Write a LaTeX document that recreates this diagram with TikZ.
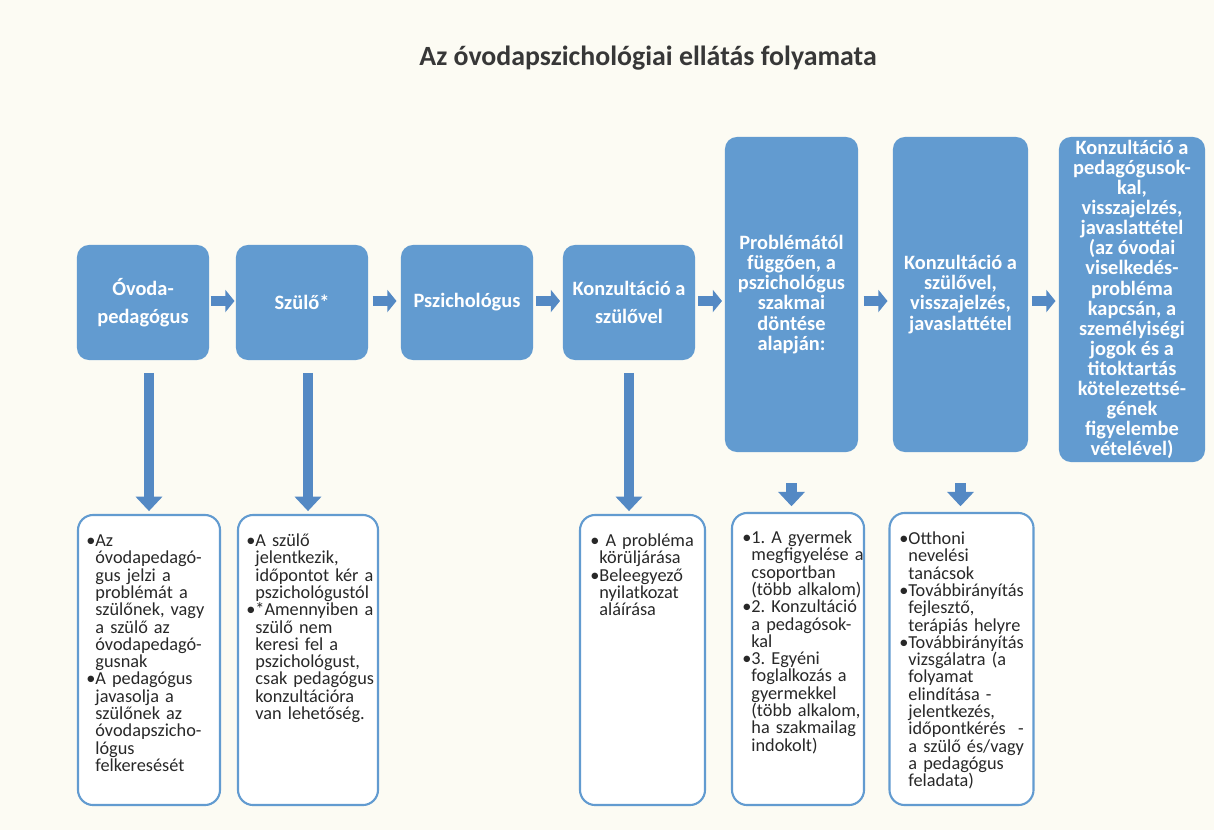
\documentclass[tikz,border=0pt]{standalone}
\usepackage{fontspec}
\setmainfont{Carlito}
\usetikzlibrary{arrows.meta, calc}
\definecolor{boxblue}{RGB}{98,155,208}
\definecolor{arrblue}{RGB}{84,137,196}
\definecolor{paper}{RGB}{252,251,243}
\definecolor{ink}{RGB}{40,40,40}
\definecolor{titlegray}{RGB}{55,55,55}
\tikzstyle{stage}=[rectangle,rounded corners=0.3cm,fill=boxblue,text=white,align=center,inner sep=2pt,font=\fontsize{14.5}{17}\selectfont\bfseries]
\tikzstyle{tall}=[font=\fontsize{14.5}{14.3}\selectfont\bfseries]
\tikzstyle{note}=[rectangle,rounded corners=0.38cm,draw=boxblue,line width=1.5pt,fill=white,inner sep=0pt]
\tikzstyle{notetext}=[anchor=north west,text width=3.6cm,align=left,inner sep=0pt,text=ink,font=\fontsize{13}{12.3}\selectfont]
\tikzstyle{harr}=[draw=arrblue,line width=0.25cm,-{Triangle[length=0.23cm,width=0.55cm]}]
\tikzstyle{varr}=[draw=arrblue,line width=0.27cm,-{Triangle[length=0.36cm,width=0.65cm]}]
\newcommand{\itm}{\par\hangindent=0.5em\hangafter=1\noindent\makebox[0.5em][l]{•}}
\hyphenpenalty=10000
\frenchspacing

\begin{document}
\begin{tikzpicture}[x=0.025cm,y=-0.025cm]
    \fill[paper] (0,0) rectangle (1214,830);
    \node[font=\fontsize{19.8}{22}\selectfont\bfseries,text=titlegray] (title) at (648,58) {Az óvodapszichológiai ellátás folyamata};
    \coordinate (mid) at (0,301);

    \node[stage,minimum width=3.3cm,minimum height=2.875cm] (ovoda) at (143,302.5) {Óvoda-\\[3pt]pedagógus};
    \node[stage,minimum width=3.3cm,minimum height=2.875cm] (szulo) at (302,302.5) {Szülő*};
    \node[stage,minimum width=3.3cm,minimum height=2.875cm] (pszich) at (467,302.5) {Pszichológus};
    \node[stage,minimum width=3.3cm,minimum height=2.875cm] (konz) at (629,302.5) {Konzultáció a\\[3pt]szülővel};
    \node[stage,tall,minimum width=3.325cm,minimum height=7.875cm] (dontes) at (791.5,294.5) {Problémától\\függően, a\\pszichológus\\szakmai\\döntése\\alapján:};
    \node[stage,tall,minimum width=3.375cm,minimum height=7.875cm] (vissza) at (960.5,294.5) {Konzultáció a\\szülővel,\\visszajelzés,\\javaslattétel};
    \node[stage,tall,minimum width=3.65cm,minimum height=8.125cm] (pedkonz) at (1132,299.5) {Konzultáció a\\pedagógusok-\\kal,\\visszajelzés,\\javaslattétel\\(az óvodai\\viselkedés-\\probléma\\kapcsán, a\\személyiségi\\jogok és a\\titoktartás\\kötelezettsé-\\gének\\figyelembe\\vételével)};

    \foreach \a/\b in {ovoda/szulo,szulo/pszich,pszich/konz,konz/dontes,dontes/vissza,vissza/pedkonz}
        \draw[harr] ($($(\a.east |- mid)!.5!(\b.west |- mid)$)+(-12,0)$) -- ++(24,0);

    \node[note,minimum width=3.55cm,minimum height=7.25cm] (b1) at (149,660) {};
    \node[note,minimum width=3.5cm,minimum height=7.25cm] (b2) at (308,660) {};
    \node[note,minimum width=3.125cm,minimum height=7.25cm] (b4) at (642.5,660) {};
    \node[note,minimum width=3.3cm,minimum height=7.3cm] (b5) at (798,659) {};
    \node[note,minimum width=3.6cm,minimum height=7.3cm] (b6) at (961.5,659) {};

    \draw[varr,shorten <=9pt,shorten >=2pt] (b1.north |- ovoda.south) -- (b1.north);
    \draw[varr,shorten <=9pt,shorten >=2pt] (b2.north |- szulo.south) -- (b2.north);
    \draw[varr,shorten <=9pt,shorten >=2pt] (konz.south) -- (konz.south |- b4.north);
    \draw[varr,shorten <=22pt,shorten >=4pt] (dontes.south) -- (dontes.south |- b5.north);
    \draw[varr,shorten <=22pt,shorten >=4pt] (vissza.south) -- (vissza.south |- b6.north);

    \node[notetext] (t1) at (86,529) {\itm Az\newline óvodapedagó-\newline gus jelzi a\newline problémát a\newline szülőnek, vagy\newline a szülő az\newline óvodapedagó-\newline gusnak
        \itm A pedagógus\newline javasolja a\newline szülőnek az\newline óvodapszicho-\newline lógus\newline felkeresését\par};
    \node[notetext] (t2) at (246,529) {\itm A szülő\newline jelentkezik,\newline időpontot kér a\newline pszichológustól
        \itm *Amennyiben a\newline szülő nem\newline keresi fel a\newline pszichológust,\newline csak pedagógus\newline konzultációra\newline van lehetőség.\par};
    \node[notetext] (t4) at (590,529) {\itm\ A probléma\newline körüljárása
        \itm Beleegyező\newline nyilatkozat\newline aláírása\par};
    \node[notetext] (t5) at (742,526) {\itm 1. A gyermek\newline megfigyelése a\newline csoportban\newline (több alkalom)
        \itm 2. Konzultáció\newline a pedagósok-\newline kal
        \itm 3. Egyéni\newline foglalkozás a\newline gyermekkel\newline (több alkalom,\newline ha szakmailag\newline indokolt)\par};
    \node[notetext] (t6) at (899,527) {\itm Otthoni\newline nevelési\newline tanácsok
        \itm Továbbirányítás\newline fejlesztő,\newline terápiás helyre
        \itm Továbbirányítás\newline vizsgálatra (a\newline folyamat\newline elindítása -\newline jelentkezés,\newline időpontkérés\ \ -\newline a szülő és/vagy\newline a pedagógus\newline feladata)\par};
\end{tikzpicture}
\end{document}
